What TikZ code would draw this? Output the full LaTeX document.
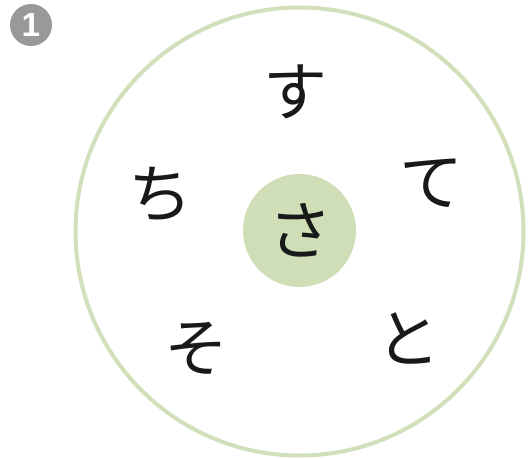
\documentclass[tikz,border=0pt]{standalone}
\usepackage{fontspec}
\newfontfamily\jpfont{Noto Sans CJK JP}
\newfontfamily\badgefont{Liberation Sans}
\definecolor{ringgreen}{HTML}{D2DFBB}
\definecolor{fillgreen}{HTML}{CFDEB7}
\definecolor{badgegray}{HTML}{999999}
\begin{document}
\begin{tikzpicture}[x=0.75pt,y=-0.75pt,
  kana/.style={inner sep=0pt, font=\jpfont\fontsize{48}{48}\selectfont, text=black!90},
  ring/.style={draw=ringgreen, line width=3pt},
  hub/.style={circle, fill=fillgreen, minimum size=84.75pt, inner sep=0pt},
  badge/.style={circle, fill=badgegray, minimum size=31.5pt, inner sep=0pt, text=white, font=\badgefont\bfseries\fontsize{25}{25}\selectfont}]
\useasboundingbox (0,0) rectangle (531,458);
\draw[ring] (299.5,231.5) circle[radius=224];
\node[hub] (center) at (299.5,230.5) {};
\node[kana] (sa) at (300,230) {さ};
\node[kana] (su) at (295,92) {す};
\node[kana] (te) at (431,183) {て};
\node[kana] (chi) at (160,194) {ち};
\node[kana] (so) at (196,349) {そ};
\node[kana] (to) at (408,338) {と};
\node[badge] (num) at (31,25) {1};
\end{tikzpicture}
\end{document}
